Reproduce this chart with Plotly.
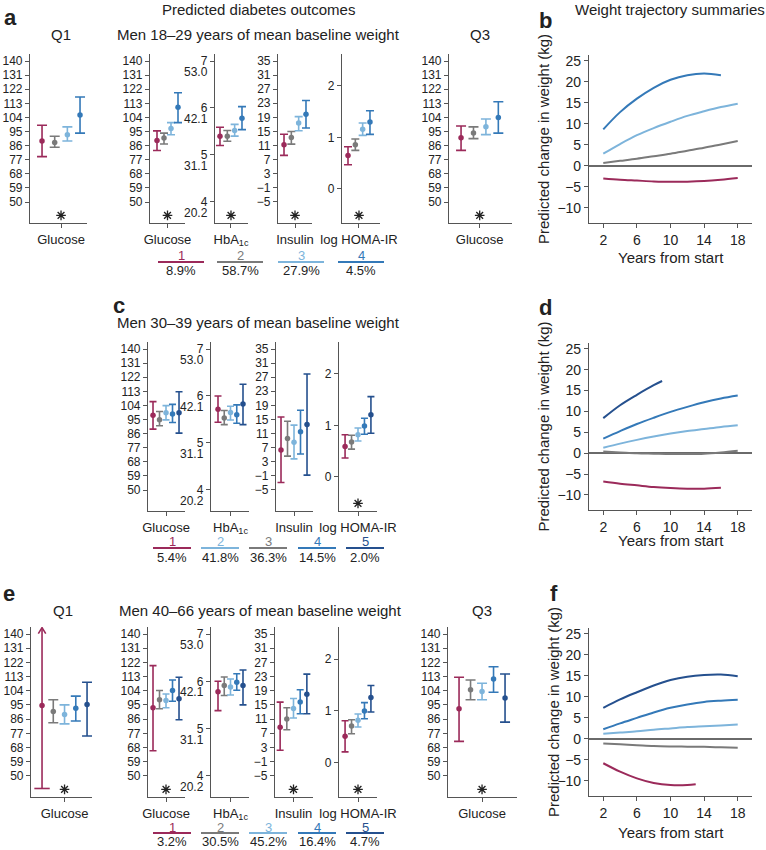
import plotly.graph_objects as go

W, H = 766, 850

# ---------------- colours ----------------
RED, GRAY, LBLUE, BLUE, NAVY = '#9B2A5A', '#7A7A7A', '#7DB4DB', '#3479B8', '#25508E'

# ---------------- tick values ----------------
glucose_ticks = [140, 131, 122, 113, 104, 95, 86, 77, 68, 59, 50]
hba1c_ticks = [4, 5, 6, 7]
hba1c_mmol = ['20.2', '31.1', '42.1', '53.0']
insulin_ticks = [35, 31, 27, 23, 19, 15, 11, 7, 3, -1, -5]
homa_ticks = [0, 1, 2]
weight_ticks = [-10, -5, 0, 5, 10, 15, 20, 25]
year_ticks = [2, 6, 10, 14, 18]

# ---------------- row a : men 18-29 ----------------
a_dot_colors = [RED, GRAY, LBLUE, BLUE]
a_leg_colors = [RED, GRAY, LBLUE, BLUE]
a_leg_labels = ['1', '2', '3', '4']
a_pct = ['8.9%', '58.7%', '27.9%', '4.5%']
a_q1_glu = [89.0, 88.0, 93.0, 105.5]
a_q1_glu_lo = [79.0, 85.0, 89.0, 94.0]
a_q1_glu_hi = [99.0, 92.0, 98.0, 117.0]
a_glu = [89.3, 90.8, 96.9, 110.5]
a_glu_lo = [82.9, 87.0, 92.9, 100.7]
a_glu_hi = [95.4, 94.0, 100.7, 119.8]
a_hba = [5.40, 5.40, 5.52, 5.78]
a_hba_lo = [5.20, 5.29, 5.40, 5.54]
a_hba_hi = [5.59, 5.52, 5.65, 6.03]
a_ins = [11.2, 13.3, 17.4, 19.9]
a_ins_lo = [8.2, 11.4, 15.2, 16.0]
a_ins_hi = [14.2, 15.0, 19.2, 23.8]
a_homa = [0.65, 0.86, 1.16, 1.30]
a_homa_lo = [0.47, 0.75, 1.04, 1.06]
a_homa_hi = [0.82, 0.97, 1.28, 1.52]
a_q3_glu = [91.0, 94.0, 98.0, 104.0]
a_q3_glu_lo = [83.0, 90.5, 93.0, 94.0]
a_q3_glu_hi = [98.5, 98.0, 103.0, 114.0]
a_stars = [True, True, True, True, True, True]

# ---------------- row c : men 30-39 ----------------
c_dot_colors = [RED, GRAY, LBLUE, BLUE, NAVY]
c_leg_colors = [RED, LBLUE, GRAY, BLUE, NAVY]
c_leg_labels = ['1', '2', '3', '4', '5']
c_pct = ['5.4%', '41.8%', '36.3%', '14.5%', '2.0%']
c_glu = [97.7, 94.8, 99.4, 98.6, 99.4]
c_glu_lo = [88.9, 91.0, 94.8, 93.1, 86.3]
c_glu_hi = [106.4, 100.1, 103.9, 104.7, 112.7]
c_hba = [5.72, 5.53, 5.65, 5.60, 5.83]
c_hba_lo = [5.44, 5.39, 5.49, 5.42, 5.39]
c_hba_hi = [6.00, 5.69, 5.78, 5.81, 6.25]
c_ins = [6.3, 9.6, 8.5, 11.5, 13.6]
c_ins_lo = [-2.9, 4.6, 3.8, 5.2, -0.8]
c_ins_hi = [15.7, 14.5, 13.4, 17.6, 27.9]
c_homa = [0.59, 0.68, 0.82, 0.99, 1.21]
c_homa_lo = [0.37, 0.54, 0.70, 0.83, 0.85]
c_homa_hi = [0.82, 0.81, 0.95, 1.14, 1.56]
c_stars = [False, False, False, True]

# ---------------- row e : men 40-66 ----------------
e_dot_colors = [RED, GRAY, LBLUE, BLUE, NAVY]
e_leg_colors = [RED, GRAY, LBLUE, BLUE, NAVY]
e_leg_labels = ['1', '2', '3', '4', '5']
e_pct = ['3.2%', '30.5%', '45.2%', '16.4%', '4.7%']
e_q1_glu = [94.7, 90.9, 89.0, 93.0, 95.3]
e_q1_glu_lo = [42.0, 83.7, 83.0, 84.8, 75.3]
e_q1_glu_hi = [None, 98.3, 95.1, 100.6, 109.4]   # None: upper limit beyond axis
e_glu = [93.2, 98.3, 97.8, 104.2, 98.9]
e_glu_lo = [66.0, 92.6, 93.2, 97.4, 85.6]
e_glu_hi = [120.0, 104.2, 102.0, 110.9, 112.6]
e_hba = [5.78, 5.91, 5.88, 5.98, 5.91]
e_hba_lo = [5.38, 5.70, 5.71, 5.81, 5.50]
e_hba_hi = [6.00, 6.09, 6.05, 6.16, 6.24]
e_ins = [8.7, 11.0, 14.0, 15.8, 18.0]
e_ins_lo = [2.2, 8.0, 11.3, 12.5, 12.5]
e_ins_hi = [15.8, 14.2, 16.8, 19.3, 23.7]
e_homa = [0.51, 0.71, 0.82, 1.00, 1.26]
e_homa_lo = [0.21, 0.56, 0.69, 0.85, 0.98]
e_homa_hi = [0.81, 0.83, 0.94, 1.16, 1.49]
e_q3_glu = [92.6, 104.6, 103.5, 111.5, 99.5]
e_q3_glu_lo = [71.9, 98.3, 98.3, 103.1, 84.1]
e_q3_glu_hi = [112.6, 110.9, 108.8, 119.3, 114.7]
e_stars = [True, True, False, True, True, True]

# ---------------- weight trajectories ----------------
yrs_full = [2, 4, 6, 8, 10, 12, 14, 16, 18]
b_red = [-3.0, -3.3, -3.5, -3.7, -3.8, -3.75, -3.6, -3.3, -2.9]
b_gray = [0.7, 1.2, 1.7, 2.3, 2.9, 3.6, 4.3, 5.1, 5.9]
b_lblue = [2.9, 5.2, 7.3, 9.0, 10.5, 11.9, 13.0, 14.0, 14.8]
b_blue_yrs = [2, 4, 6, 8, 10, 12, 14, 16]
b_blue = [8.7, 12.8, 16.0, 18.6, 20.5, 21.6, 22.0, 21.6]

d_red_yrs = [2, 4, 6, 8, 10, 12, 14, 16]
d_red = [-6.8, -7.3, -7.7, -8.1, -8.35, -8.5, -8.5, -8.3]
d_gray = [0.4, 0.2, 0.0, -0.1, -0.2, -0.2, -0.1, 0.2, 0.6]
d_lblue = [1.3, 2.3, 3.2, 4.0, 4.7, 5.3, 5.8, 6.3, 6.7]
d_blue = [3.5, 5.3, 7.0, 8.5, 9.9, 11.1, 12.2, 13.1, 13.8]
d_navy_yrs = [2, 4, 6, 8, 9]
d_navy = [8.4, 11.5, 14.0, 16.3, 17.3]

f_red_yrs = [2, 4, 6, 8, 10, 12, 13]
f_red = [-5.8, -7.8, -9.4, -10.5, -11.0, -11.0, -10.8]
f_gray = [-1.1, -1.3, -1.5, -1.7, -1.8, -1.85, -1.9, -2.0, -2.1]
f_lblue = [1.2, 1.5, 1.8, 2.2, 2.5, 2.8, 3.0, 3.2, 3.4]
f_blue = [2.3, 3.7, 5.0, 6.3, 7.4, 8.2, 8.8, 9.1, 9.3]
f_navy = [7.4, 9.4, 11.1, 12.7, 14.0, 14.8, 15.2, 15.3, 14.9]

# ---------------- figure helpers ----------------
FONT = 'Liberation Sans, Arial, Helvetica, sans-serif'
INK = '#222222'
AXC = '#555555'

fig = go.Figure()
fig.update_layout(template='none', width=W, height=H,
                  margin=dict(l=0, r=0, t=0, b=0),
                  paper_bgcolor='white', plot_bgcolor='white',
                  font=dict(family=FONT, color=INK, size=12),
                  showlegend=False)

YR = {'glu': [36.6, 144.5], 'hba': [3.55, 7.15], 'ins': [-11.0, 37.0], 'homa': [-0.66, 2.62]}
TICKS = {'glu': glucose_ticks, 'hba': hba1c_ticks, 'ins': insulin_ticks, 'homa': homa_ticks}

n_ax = [0]


def new_axes(x0, x1, y0, y1, xr, yr, xkw=None, ykw=None):
    n_ax[0] += 1
    s = '' if n_ax[0] == 1 else str(n_ax[0])
    base = dict(showline=True, linecolor=AXC, linewidth=1.1, ticks='outside', ticklen=4,
                tickcolor=AXC, tickwidth=1, showgrid=False, zeroline=False,
                tickfont=dict(size=12, color=INK, family=FONT), fixedrange=True, automargin=False)
    xd = dict(base, domain=[x0 / W, x1 / W], range=xr, anchor='y' + s)
    yd = dict(base, domain=[1 - y1 / H, 1 - y0 / H], range=yr, anchor='x' + s)
    if xkw:
        xd.update(xkw)
    if ykw:
        yd.update(ykw)
    fig.layout['xaxis' + s] = xd
    fig.layout['yaxis' + s] = yd
    return 'x' + s, 'y' + s


def sc(**kw):
    fig.add_trace(go.Scatter(cliponaxis=False, hoverinfo='skip', **kw))


def forest(box, xr, kind, colors, mean, lo, hi, label, star, cap=4):
    x0, x1, y0, y1 = box
    yr = YR[kind]
    n = len(mean)
    xa, ya = new_axes(x0, x1, y0, y1, xr, yr,
                      xkw=dict(tickvals=[(n - 1) / 2], ticktext=[label],
                               tickfont=dict(size=13, color=INK, family=FONT)),
                      ykw=dict(tickvals=TICKS[kind]))
    for i in range(n):
        c = colors[i]
        if hi[i] is None:
            top = yr[1] - 0.004 * (yr[1] - yr[0])
            dy = 0.035 * (yr[1] - yr[0])
            sc(x=[i, i], y=[lo[i], top], mode='lines', line=dict(color=c, width=1.6),
               xaxis=xa, yaxis=ya)
            sc(x=[i - 0.33, i, i + 0.33], y=[top - dy, top, top - dy], mode='lines',
               line=dict(color=c, width=1.6), xaxis=xa, yaxis=ya)
            sc(x=[i], y=[lo[i]], mode='markers',
               marker=dict(symbol='line-ew-open', size=2 * cap + 1, color=c,
                           line=dict(color=c, width=1.6)), xaxis=xa, yaxis=ya)
            sc(x=[i], y=[mean[i]], mode='markers', marker=dict(color=c, size=5.5),
               xaxis=xa, yaxis=ya)
        else:
            sc(x=[i], y=[mean[i]], mode='markers', marker=dict(color=c, size=5.5),
               error_y=dict(type='data', symmetric=False, array=[hi[i] - mean[i]],
                            arrayminus=[mean[i] - lo[i]], color=c, thickness=1.6, width=cap),
               xaxis=xa, yaxis=ya)
    if star:
        sc(x=[(n - 1) / 2], y=[yr[0] + 0.045 * (yr[1] - yr[0])], mode='markers',
           marker=dict(symbol='asterisk-open', size=8, color=INK,
                       line=dict(color=INK, width=1.3)), xaxis=xa, yaxis=ya)
    if kind == 'hba':
        for v, t in zip(hba1c_ticks, hba1c_mmol):
            fig.add_annotation(x=0, xref=xa + ' domain', y=v, yref=ya, text=t, showarrow=False,
                               xanchor='right', yanchor='middle', xshift=-5, yshift=-11,
                               font=dict(size=12, color=INK, family=FONT))


def weight(box, series, ytitle_x, xtitle_y):
    x0, x1, y0, y1 = box
    xa, ya = new_axes(x0, x1, y0, y1, [0.3, 19.7], [-13.6, 26.4],
                      xkw=dict(tickvals=year_ticks, tickfont=dict(size=14, color=INK, family=FONT)),
                      ykw=dict(tickvals=weight_ticks, zeroline=True, zerolinecolor='#6a6a6a',
                               zerolinewidth=1.6,
                               tickfont=dict(size=14, color=INK, family=FONT)))
    for yrs, vals, c in series:
        fig.add_trace(go.Scatter(x=yrs, y=vals, mode='lines',
                                 line=dict(color=c, width=2, shape='spline', smoothing=1.0),
                                 xaxis=xa, yaxis=ya, hoverinfo='skip'))
    txt((x0 + x1) / 2 + 0, xtitle_y, 'Years from start', 15)
    fig.add_annotation(x=ytitle_x / W, y=1 - ((y0 + y1) / 2) / H, xref='paper', yref='paper',
                       text='Predicted change in weight (kg)', textangle=-90, showarrow=False,
                       xanchor='center', yanchor='middle',
                       font=dict(size=15, color=INK, family=FONT))


def txt(x, y, text, size, bold=False, color=INK, xanchor='center'):
    fig.add_annotation(x=x / W, y=1 - y / H, xref='paper', yref='paper',
                       text='<b>%s</b>' % text if bold else text, showarrow=False,
                       xanchor=xanchor, yanchor='middle',
                       font=dict(size=size, color=color, family=FONT))


def legend(centers, half, y_num, y_line, y_pct, labels, colors, pcts):
    for cx, lab, col, p in zip(centers, labels, colors, pcts):
        fig.add_shape(type='line', xref='paper', yref='paper',
                      x0=(cx - half) / W, x1=(cx + half) / W,
                      y0=1 - y_line / H, y1=1 - y_line / H,
                      line=dict(color=col, width=2))
        txt(cx, y_num, lab, 13, color=col)
        txt(cx, y_pct, p, 13)


# ---------------- row a ----------------
TA, BA = 54, 223
forest((30, 87, TA, BA), [-0.95, 3.55], 'glu', a_dot_colors, a_q1_glu, a_q1_glu_lo, a_q1_glu_hi, 'Glucose', a_stars[0], cap=5)
forest((150, 185, TA, BA), [-1.0, 4.0], 'glu', a_dot_colors, a_glu, a_glu_lo, a_glu_hi, 'Glucose', a_stars[1])
forest((215, 248, TA, BA), [-0.68, 3.82], 'hba', a_dot_colors, a_hba, a_hba_lo, a_hba_hi, 'HbA<sub>1c</sub>', a_stars[2])
forest((278, 312, TA, BA), [-0.82, 3.82], 'ins', a_dot_colors, a_ins, a_ins_lo, a_ins_hi, 'Insulin', a_stars[3])
forest((342, 380, TA, BA), [-0.82, 4.37], 'homa', a_dot_colors, a_homa, a_homa_lo, a_homa_hi, 'log HOMA-IR', a_stars[4])
forest((449, 512, TA, BA), [-0.97, 4.1], 'glu', a_dot_colors, a_q3_glu, a_q3_glu_lo, a_q3_glu_hi, 'Glucose', a_stars[5], cap=5)
legend([181, 240, 301, 361], 23, 256, 262, 270, a_leg_labels, a_leg_colors, a_pct)

# ---------------- row c ----------------
TC, BC = 342, 511
forest((148, 185, TC, BC), [-0.77, 4.92], 'glu', c_dot_colors, c_glu, c_glu_lo, c_glu_hi, 'Glucose', c_stars[0], cap=3.5)
forest((211, 249, TC, BC), [-1.12, 4.96], 'hba', c_dot_colors, c_hba, c_hba_lo, c_hba_hi, 'HbA<sub>1c</sub>', c_stars[1], cap=3.5)
forest((276, 313, TC, BC), [-0.77, 4.92], 'ins', c_dot_colors, c_ins, c_ins_lo, c_ins_hi, 'Insulin', c_stars[2], cap=3.5)
forest((339, 377, TC, BC), [-0.94, 4.94], 'homa', c_dot_colors, c_homa, c_homa_lo, c_homa_hi, 'log HOMA-IR', c_stars[3], cap=3.5)
legend([172, 220, 268, 317, 365], 19, 541, 548, 557, c_leg_labels, c_leg_colors, c_pct)

# ---------------- row e ----------------
TE, BE = 627, 797
forest((31, 92, TE, BE), [-0.98, 4.44], 'glu', e_dot_colors, e_q1_glu, e_q1_glu_lo, e_q1_glu_hi, 'Glucose', e_stars[0], cap=5)
forest((148, 185, TE, BE), [-0.77, 4.92], 'glu', e_dot_colors, e_glu, e_glu_lo, e_glu_hi, 'Glucose', e_stars[1], cap=3.5)
forest((211, 249, TE, BE), [-1.12, 4.96], 'hba', e_dot_colors, e_hba, e_hba_lo, e_hba_hi, 'HbA<sub>1c</sub>', e_stars[2], cap=3.5)
forest((275, 313, TE, BE), [-0.77, 4.92], 'ins', e_dot_colors, e_ins, e_ins_lo, e_ins_hi, 'Insulin', e_stars[3], cap=3.5)
forest((339, 377, TE, BE), [-0.94, 4.94], 'homa', e_dot_colors, e_homa, e_homa_lo, e_homa_hi, 'log HOMA-IR', e_stars[4], cap=3.5)
forest((448, 517, TE, BE), [-0.96, 5.04], 'glu', e_dot_colors, e_q3_glu, e_q3_glu_lo, e_q3_glu_hi, 'Glucose', e_stars[5], cap=5)
legend([172, 220, 268, 317, 365], 19, 827, 833, 841, e_leg_labels, e_leg_colors, e_pct)

# ---------------- weight panels ----------------
weight((589, 752, 55, 223),
       [(yrs_full, b_red, RED), (yrs_full, b_gray, GRAY), (yrs_full, b_lblue, LBLUE),
        (b_blue_yrs, b_blue, BLUE)], 543, 258)
weight((589, 752, 343, 510),
       [(d_red_yrs, d_red, RED), (yrs_full, d_gray, GRAY), (yrs_full, d_lblue, LBLUE),
        (yrs_full, d_blue, BLUE), (d_navy_yrs, d_navy, NAVY)], 543, 540)
weight((589, 752, 628, 796),
       [(f_red_yrs, f_red, RED), (yrs_full, f_gray, GRAY), (yrs_full, f_lblue, LBLUE),
        (yrs_full, f_blue, BLUE), (yrs_full, f_navy, NAVY)], 553, 832)

# ---------------- titles and panel letters ----------------
txt(258, 9, 'Predicted diabetes outcomes', 15)
txt(670, 9, 'Weight trajectory summaries', 15)
txt(2, 18, 'a', 22, bold=True, xanchor='left')
txt(545, 20, 'b', 22, bold=True)
txt(119, 305, 'c', 22, bold=True)
txt(545, 307, 'd', 22, bold=True)
txt(1, 593, 'e', 22, bold=True, xanchor='left')
txt(554, 593, 'f', 22, bold=True)

txt(61, 34, 'Q1', 15)
txt(258, 34, 'Men 18–29 years of mean baseline weight', 15)
txt(480, 34, 'Q3', 15)
txt(115, 322, 'Men 30–39 years of mean baseline weight', 15, xanchor='left')
txt(63, 610, 'Q1', 15)
txt(260, 610, 'Men 40–66 years of mean baseline weight', 15)
txt(482, 610, 'Q3', 15)

fig.write_html('out.html', config={'displayModeBar': False},
               post_script="document.body.style.margin='0px';document.body.style.overflow='hidden';")
